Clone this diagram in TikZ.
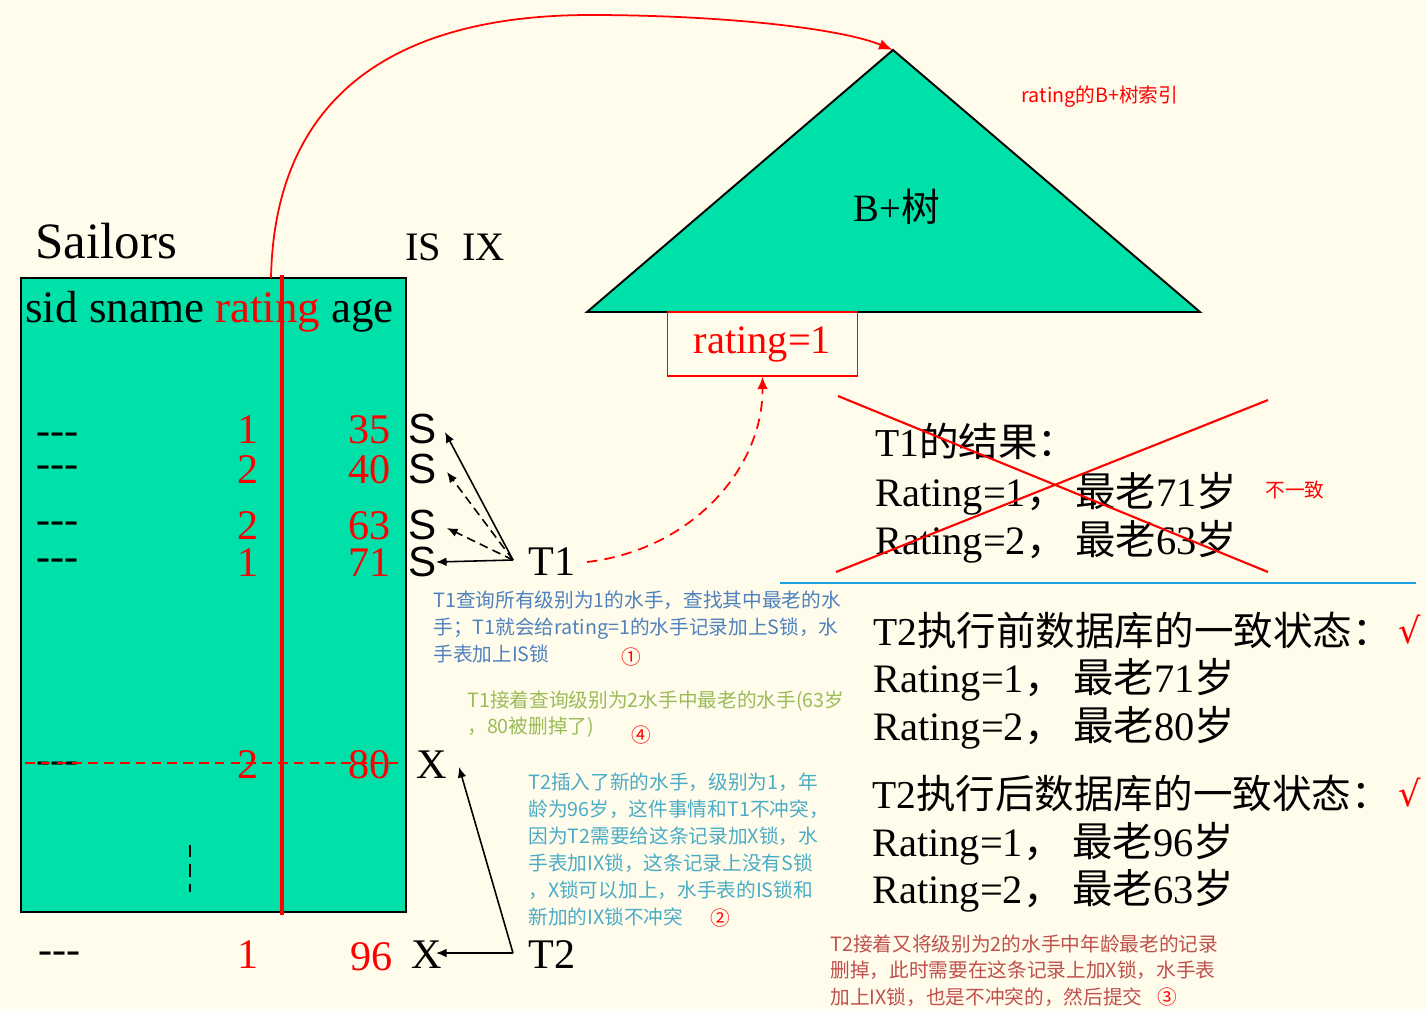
\documentclass[tikz,border=0pt]{standalone}
\usepackage{fontspec}
\setmainfont{Liberation Serif}
\newfontfamily\cjk{Noto Sans CJK SC}
\newfontfamily\sansS{Liberation Sans}
\newfontfamily\djv{DejaVu Serif}
\newcommand\zhs[1]{{\cjk #1}}
\newcommand\cma{\zhs{，}\hspace{5pt}}
\usetikzlibrary{arrows.meta}
\definecolor{bgc}{HTML}{FFFCEB}
\definecolor{teal1}{HTML}{00E1A9}
\definecolor{noteblue}{HTML}{4F81BD}
\definecolor{notegreen}{HTML}{9BBB59}
\definecolor{notecyan}{HTML}{4BACC6}
\definecolor{notered}{HTML}{C0504D}
\definecolor{lineblue}{HTML}{1BA1E2}
\begin{document}
\begin{tikzpicture}[x=0.02cm,y=-0.02cm,
  cell/.style={inner sep=0pt,font=\fontsize{24}{28}\selectfont},
  rednum/.style={cell,text=red,anchor=base east},
  dashes/.style={cell,anchor=base west},
  lockS/.style={inner sep=0pt,anchor=base west,font=\sansS\fontsize{24}{28}\selectfont},
  rt/.style={inner sep=0pt,anchor=base west,font=\fontsize{23}{26}\selectfont},
  hd/.style={inner sep=0pt,anchor=base west,font=\fontsize{22.5}{26}\selectfont},
  note/.style={inner sep=0pt,anchor=north west,align=left,font=\cjk\fontsize{11.2}{15.3}\selectfont},
  circ/.style={inner sep=0pt,text=red,font=\cjk\fontsize{11.2}{14}\selectfont},
  ckm/.style={inner sep=0pt,anchor=base west,text=red,font=\djv\fontsize{20}{24}\selectfont},
  blk/.style={black,line width=0.9pt,-{Latex[length=6pt,width=5pt]}},
  blkd/.style={blk,dash pattern=on 5pt off 3pt}
]
\useasboundingbox (0,0) rectangle (1425,1009);
\fill[bgc] (0,0) rectangle (1425,1009);

% ---------- Sailors table ----------
\node[inner sep=0pt,anchor=base west,font=\fontsize{29}{32}\selectfont] (sail) at (35,258) {Sailors};
\node[inner sep=0pt,anchor=base west,font=\fontsize{23}{26}\selectfont] (isix) at (405,260) {IS\hspace{12pt}IX};
\filldraw[fill=teal1,draw=black,line width=1.1pt] (21,278) rectangle (406,912);
\node[inner sep=0pt,anchor=base west,font=\fontsize{25.6}{28}\selectfont] (hdr) at (25,322) {sid sname \textcolor{red}{rating} age};

\node[dashes] (d1) at (36,444) {-{}-{}-};
\node[rednum] (r1) at (259,443) {1};
\node[rednum] (a1) at (391,443) {35};
\node[lockS] (s1) at (408,443) {S};

\node[dashes] (d2) at (36,477) {-{}-{}-};
\node[rednum] (r2) at (259,483) {2};
\node[rednum] (a2) at (391,483) {40};
\node[lockS] (s2) at (408,483) {S};

\node[dashes] (d3) at (36,533) {-{}-{}-};
\node[rednum] (r3) at (259,539) {2};
\node[rednum] (a3) at (391,539) {63};
\node[lockS] (s3) at (408,539) {S};

\node[dashes] (d4) at (36,570) {-{}-{}-};
\node[rednum] (r4) at (259,576) {1};
\node[rednum] (a4) at (391,576) {71};
\node[lockS] (s4) at (408,576) {S};

\node[dashes] (d5) at (36,773) {-{}-{}-};
\node[rednum] (r5) at (259,778) {2};
\node[rednum] (a5) at (391,778) {80};
\node[cell,anchor=base west] (x5) at (416,778) {X};

\node[dashes] (d6) at (38,963) {-{}-{}-};
\node[rednum] (r6) at (259,968) {1};
\node[rednum] (a6) at (393,970) {96};
\node[cell,anchor=base west] (x6) at (411,968) {X};

\draw[line width=1.6pt,dash pattern=on 7pt off 4pt] (190,845) -- (190,892);
\draw[red,line width=2.8pt] (282,275) -- (282,915);
\draw[red,line width=0.9pt,dash pattern=on 5.5pt off 3.5pt] (25,763) -- (402,763);

% ---------- transactions ----------
\node[cell,anchor=base west] (T1) at (528,575) {T1};
\node[cell,anchor=base west] (T2) at (528,968) {T2};
\coordinate (t1s) at (513,560);
\coordinate (t2s) at (513,953);
\coordinate (s1t) at (445,432);
\coordinate (s2t) at (447,472);
\coordinate (s3t) at (447,528);
\coordinate (s4t) at (436,562);
\coordinate (x5t) at (459,767);
\coordinate (x6t) at (436,953);
\draw[blk] (t1s) -- (s1t);
\draw[blkd] (t1s) -- (s2t);
\draw[blkd] (t1s) -- (s3t);
\draw[blk] (t1s) -- (s4t);
\draw[blk] (t2s) -- (x6t);
\draw[blk] (t2s) -- (x5t);

% ---------- B+ tree ----------
\coordinate (apex) at (893,50);
\filldraw[fill=teal1,draw=black,line width=1.1pt] (apex) -- (1200,312) -- (587,312) -- cycle;
\node[inner sep=0pt,font=\fontsize{22}{26}\selectfont] (bt) at (897,207) {B+\zhs{树}};
\node[inner sep=0pt,text=red,font=\cjk\fontsize{11.2}{14}\selectfont] (idx) at (1100,97) {rating的B+树索引};
\node[draw=red,line width=0.9pt,fill=bgc,text=red,minimum width=108pt,minimum height=36.3pt,inner sep=0pt,font=\fontsize{23}{26}\selectfont] (rbox) at (762.5,344) {rating=1};

\coordinate (rcol) at (271,278);
\draw[red,line width=1pt,-{Latex[length=8pt,width=6pt]}] (rcol) .. controls (275,70) and (430,15) .. (590,15) .. controls (720,15) and (840,28) .. (apex);
\coordinate (t1r) at (587,562);
\draw[red,line width=1pt,dash pattern=on 6pt off 4pt,-{Latex[length=7pt,width=6pt]}] (t1r) .. controls (690,550) and (763,470) .. (rbox.south);

% ---------- results ----------
\node[hd] (res0) at (875,456) {T1\zhs{的结果：}};
\node[rt] (res1) at (875,506) {Rating=1\cma\zhs{最老}71\zhs{岁}};
\node[rt] (res2) at (875,554) {Rating=2\cma\zhs{最老}63\zhs{岁}};
\draw[red,line width=1.2pt] (838,396) -- (1268,572);
\draw[red,line width=1.2pt] (836,572) -- (1268,400);
\node[inner sep=0pt,text=red,font=\cjk\fontsize{11.2}{14}\selectfont] (bad) at (1295,490) {不一致};
\draw[lineblue,line width=1.2pt] (780,583) -- (1416,583);

\node[hd] (pre0) at (873,645) {T2\zhs{执行前数据库的一致状态：}};
\node[rt] (pre1) at (873,692) {Rating=1\cma\zhs{最老}71\zhs{岁}};
\node[rt] (pre2) at (873,740) {Rating=2\cma\zhs{最老}80\zhs{岁}};
\node[ckm] (ck1) at (1398,643) {√};
\node[hd] (post0) at (872,808) {T2\zhs{执行后数据库的一致状态：}};
\node[rt] (post1) at (872,856) {Rating=1\cma\zhs{最老}96\zhs{岁}};
\node[rt] (post2) at (872,903) {Rating=2\cma\zhs{最老}63\zhs{岁}};
\node[ckm] (ck2) at (1398,806) {√};

% ---------- notes ----------
\node[note,text=noteblue] (n1) at (433,591) {T1查询所有级别为1的水手，查找其中最老的水\\手；T1就会给rating=1的水手记录加上S锁，水\\手表加上IS锁};
\node[circ] (c1) at (631,657) {①};
\node[note,text=notegreen] (n4) at (467,690) {T1接着查询级别为2水手中最老的水手(63岁\\，80被删掉了)};
\node[circ] (c4) at (641,735) {④};
\node[note,text=notecyan] (n2) at (528,773) {T2插入了新的水手，级别为1，年\\龄为96岁，这件事情和T1不冲突，\\因为T2需要给这条记录加X锁，水\\手表加IX锁，这条记录上没有S锁\\，X锁可以加上，水手表的IS锁和\\新加的IX锁不冲突};
\node[circ] (c2) at (720,918) {②};
\node[note,text=notered] (n3) at (830,934) {T2接着又将级别为2的水手中年龄最老的记录\\删掉，此时需要在这条记录上加X锁，水手表\\加上IX锁，也是不冲突的，然后提交};
\node[circ] (c3) at (1167,997) {③};
\end{tikzpicture}
\end{document}
